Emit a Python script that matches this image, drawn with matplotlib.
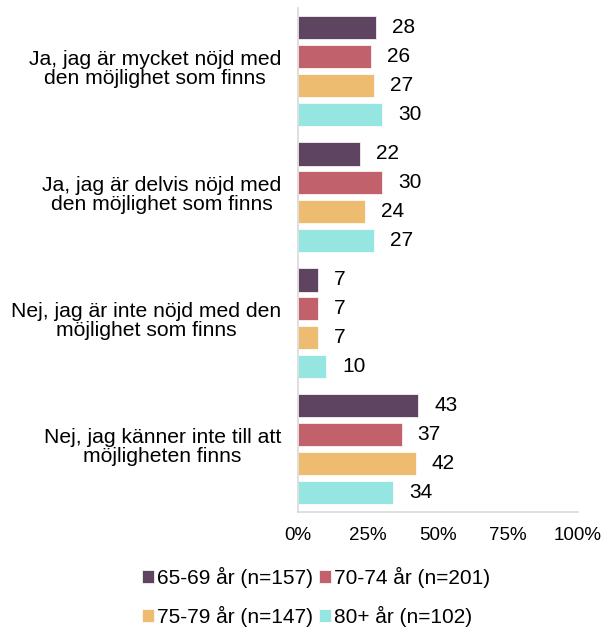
import matplotlib
matplotlib.use("Agg")
import matplotlib.pyplot as plt
import numpy as np
from matplotlib.ticker import FuncFormatter

plt.rcParams['font.family'] = ['Liberation Sans', 'DejaVu Sans']

categories = [
    "Ja, jag är mycket nöjd med\nden möjlighet som finns",
    "Ja, jag är delvis nöjd med\nden möjlighet som finns",
    "Nej, jag är inte nöjd med den\nmöjlighet som finns",
    "Nej, jag känner inte till att\nmöjligheten finns",
]
series_names = ["65-69 år (n=157)", "70-74 år (n=201)", "75-79 år (n=147)", "80+ år (n=102)"]
v_65_69 = [28, 22, 7, 43]
v_70_74 = [26, 30, 7, 37]
v_75_79 = [27, 24, 7, 42]
v_80 = [30, 27, 10, 34]
series_values = [v_65_69, v_70_74, v_75_79, v_80]
colors = ["#5F4461", "#C0616B", "#EDBC70", "#95E6E0"]
xticks = [0, 25, 50, 75, 100]

fig = plt.figure(figsize=(6.02, 6.30), dpi=100)
ax = fig.add_axes([298/602, 1-512/630, 280/602, 504/630])

step = 0.23
h = 0.19
g = np.arange(len(categories))
handles = []
for i, (name, vals, c) in enumerate(zip(series_names, series_values, colors)):
    y = g + (i - 1.5) * step
    bars = ax.barh(y, vals, height=h, color=c, label=name, edgecolor='white', linewidth=0.5)
    handles.append(bars)
    for yy, v in zip(y, vals):
        ax.annotate(f"{v}", xy=(v, yy), xytext=(11.5, 0), textcoords='offset points',
                    va='center', ha='left', fontsize=15, color='black')

ax.set_ylim(3.5, -0.5)
ax.set_xlim(0, 100)
ax.set_xticks(xticks)
ax.xaxis.set_major_formatter(FuncFormatter(lambda x, p: f"{int(x)}%"))
ax.tick_params(axis='x', length=0, pad=11, labelsize=13.5)
ax.set_yticks([])
for s in ['top', 'right']:
    ax.spines[s].set_visible(False)
ax.spines['left'].set_color('#D9D9D9')
ax.spines['bottom'].set_color('#D9D9D9')
ax.spines['left'].set_linewidth(1.2)
ax.spines['bottom'].set_linewidth(1.2)

for gi, cat in enumerate(categories):
    ax.text(-0.0607, gi - 0.015, cat, transform=ax.get_yaxis_transform(), ha='right', va='center',
            fontsize=15.2, linespacing=1.02, multialignment='center')

order = [0, 2, 1, 3]
fig.legend([handles[k] for k in order], [series_names[k] for k in order],
           loc='center', bbox_to_anchor=(316/602, 1-597/630), ncol=2, frameon=False,
           fontsize=15, handlelength=0.6, handleheight=0.6, handletextpad=0.15,
           columnspacing=0.25, labelspacing=0.85)

fig.savefig("out.png", dpi=100)
